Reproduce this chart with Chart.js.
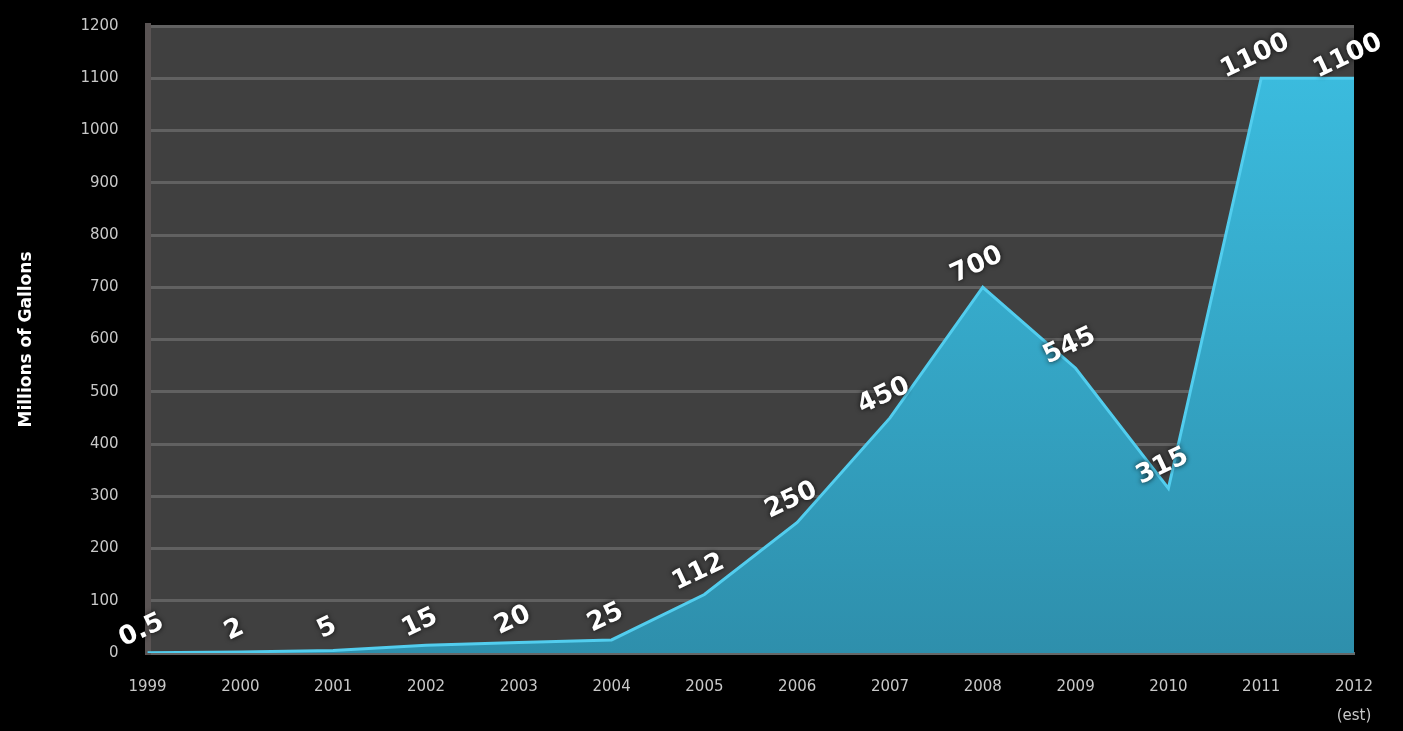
<!DOCTYPE html>
<html>
<head>
<meta charset="utf-8">
<script src="https://cdn.jsdelivr.net/npm/chart.js@4.4.1/dist/chart.umd.min.js"></script>
<style>
  html, body { margin: 0; padding: 0; background: #000; }
  #wrap { width: 1403px; height: 731px; position: relative; }
</style>
</head>
<body>
<div id="wrap"><canvas id="mainChart"></canvas></div>
<script>
const years = ['1999', '2000', '2001', '2002', '2003', '2004', '2005', '2006', '2007', '2008', '2009', '2010', '2011', ['2012', '(est)']];
const gallons = [0.5, 2, 5, 15, 20, 25, 112, 250, 450, 700, 545, 315, 1100, 1100];
const valueLabels = ['0.5', '2', '5', '15', '20', '25', '112', '250', '450', '700', '545', '315', '1100', '1100'];

const ctx = document.getElementById('mainChart').getContext('2d');

// dark plot panel behind the grid
const panelBg = {
    id: 'panelBg',
    beforeDraw(chart) {
        const a = chart.chartArea, c = chart.ctx;
        c.save();
        c.fillStyle = '#404040';
        c.fillRect(a.left, a.top, a.right - a.left, a.bottom - a.top);
        c.restore();
    }
};

// rotated value labels above each point
const valueText = {
    id: 'valueText',
    afterDatasetsDraw(chart) {
        const c = chart.ctx;
        const pts = chart.getDatasetMeta(0).data;
        c.save();
        c.font = 'bold 26px "DejaVu Sans", sans-serif';
        c.fillStyle = '#ffffff';
        c.textAlign = 'center';
        c.textBaseline = 'middle';
        c.shadowColor = 'rgba(0,0,0,0.9)';
        c.shadowBlur = 5;
        pts.forEach((p, i) => {
            c.save();
            c.translate(p.x - 6, p.y - 22);
            c.rotate(-25 * Math.PI / 180);
            c.fillText(valueLabels[i], 0, 0);
            c.restore();
        });
        c.restore();
    }
};

function areaFill(context) {
    const a = context.chart.chartArea;
    if (!a) return '#33a6c8';
    const g = context.chart.ctx.createLinearGradient(0, a.top, 0, a.bottom);
    g.addColorStop(0, '#3cbfe2');
    g.addColorStop(1, '#2e8fac');
    return g;
}

const tickFont = { family: '"DejaVu Sans", sans-serif', size: 15 };

new Chart(ctx, {
    type: 'line',
    data: {
        labels: years,
        datasets: [{
            label: 'Millions of Gallons',
            data: gallons,
            borderColor: '#52cdee',
            borderWidth: 3,
            backgroundColor: areaFill,
            fill: 'origin',
            pointRadius: 0,
            tension: 0
        }]
    },
    options: {
        responsive: true,
        maintainAspectRatio: false,
        animation: false,
        layout: { padding: { top: 26, right: 49, left: 12, bottom: -19 } },
        plugins: { legend: { display: false }, tooltip: { enabled: false } },
        scales: {
            x: {
                offset: false,
                grid: { display: false, drawTicks: false },
                border: { color: '#666666', width: 3 },
                ticks: { color: '#c8c8c8', font: { ...tickFont, lineHeight: 1.9 }, padding: 20, maxRotation: 0, autoSkip: false }
            },
            y: {
                min: 0,
                max: 1200,
                grid: { color: '#616161', lineWidth: 3, drawTicks: true, tickLength: 19, tickColor: 'rgba(0,0,0,0)' },
                border: { color: '#5a5454', width: 6 },
                ticks: { stepSize: 100, color: '#c8c8c8', font: tickFont, padding: 10, callback: v => String(v) },
                title: { display: true, text: 'Millions of Gallons', color: '#ffffff', font: { family: '"DejaVu Sans", sans-serif', size: 17, weight: 'bold' }, padding: { bottom: 34 } }
            }
        }
    },
    plugins: [panelBg, valueText]
});
</script>
</body>
</html>
